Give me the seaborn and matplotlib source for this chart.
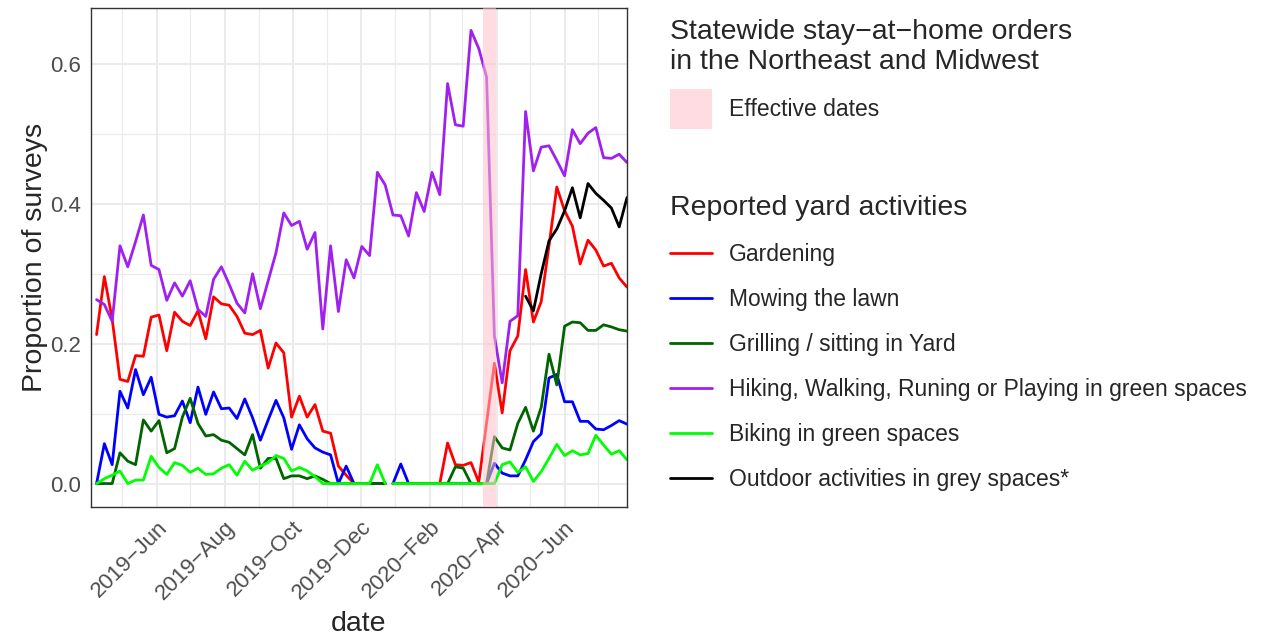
import matplotlib
matplotlib.use('Agg')

import numpy as np
import pandas as pd
import seaborn as sns
import matplotlib.pyplot as plt
import matplotlib.dates as mdates
from matplotlib.patches import Patch
from matplotlib.lines import Line2D

# weekly survey data, Monday 2019-04-08 .. 2020-07-27 (69 weeks)
dates = pd.date_range('2019-04-08', periods=69, freq='7D')
nan = np.nan

gardening = [0.213, 0.296, 0.235, 0.149, 0.146, 0.183, 0.182, 0.238, 0.241, 0.190,
             0.245, 0.232, 0.226, 0.247, 0.207, 0.267, 0.257, 0.255, 0.239, 0.215,
             0.213, 0.219, 0.165, 0.201, 0.187, 0.095, 0.125, 0.095, 0.113, 0.075,
             0.072, 0.025, 0.012, 0.0, 0.0, 0.0, 0.0, 0.0, 0.0, 0.0,
             0.0, 0.0, 0.0, 0.0, 0.0, 0.058, 0.027, 0.026, 0.030, 0.002,
             0.087, 0.172, 0.101, 0.190, 0.211, 0.306, 0.231, 0.260, 0.340, 0.424,
             0.390, 0.368, 0.314, 0.348, 0.334, 0.311, 0.315, 0.294, 0.281]
mowing = [0.0, 0.057, 0.027, 0.132, 0.108, 0.163, 0.127, 0.152, 0.099, 0.095,
          0.097, 0.118, 0.087, 0.138, 0.099, 0.131, 0.107, 0.108, 0.093, 0.121,
          0.094, 0.062, 0.091, 0.119, 0.094, 0.049, 0.084, 0.064, 0.051, 0.045,
          0.041, 0.0, 0.025, 0.0, 0.0, 0.0, 0.0, 0.0, 0.0, 0.028,
          0.0, 0.0, 0.0, 0.0, 0.0, 0.0, 0.0, 0.0, 0.0, 0.0,
          0.0, 0.029, 0.015, 0.011, 0.011, 0.034, 0.060, 0.071, 0.151, 0.156,
          0.117, 0.117, 0.089, 0.089, 0.078, 0.077, 0.083, 0.090, 0.085]
grilling = [0.0, 0.0, 0.0, 0.044, 0.032, 0.027, 0.091, 0.075, 0.090, 0.044,
            0.050, 0.095, 0.122, 0.086, 0.068, 0.070, 0.062, 0.059, 0.050, 0.041,
            0.070, 0.022, 0.036, 0.036, 0.007, 0.011, 0.011, 0.007, 0.011, 0.006,
            0.0, 0.0, 0.0, 0.0, 0.0, 0.0, 0.0, 0.0, 0.0, 0.0,
            0.0, 0.0, 0.0, 0.0, 0.0, 0.0, 0.024, 0.022, 0.0, 0.0,
            0.0, 0.067, 0.051, 0.048, 0.086, 0.109, 0.075, 0.109, 0.185, 0.141,
            0.225, 0.231, 0.230, 0.219, 0.219, 0.227, 0.224, 0.220, 0.218]
hiking = [0.263, 0.256, 0.232, 0.340, 0.310, 0.346, 0.384, 0.312, 0.306, 0.262,
          0.287, 0.268, 0.290, 0.249, 0.239, 0.292, 0.310, 0.285, 0.258, 0.244,
          0.300, 0.250, 0.290, 0.330, 0.387, 0.369, 0.375, 0.335, 0.359, 0.221,
          0.340, 0.246, 0.320, 0.294, 0.339, 0.326, 0.445, 0.427, 0.384, 0.383,
          0.354, 0.416, 0.389, 0.445, 0.413, 0.572, 0.513, 0.511, 0.648, 0.622,
          0.581, 0.211, 0.144, 0.232, 0.240, 0.532, 0.447, 0.481, 0.483, 0.462,
          0.440, 0.506, 0.486, 0.501, 0.509, 0.466, 0.465, 0.471, 0.459]
biking = [0.0, 0.007, 0.012, 0.018, 0.0, 0.005, 0.005, 0.039, 0.023, 0.013,
          0.030, 0.026, 0.016, 0.022, 0.013, 0.014, 0.022, 0.027, 0.012, 0.032,
          0.019, 0.025, 0.030, 0.040, 0.036, 0.018, 0.023, 0.018, 0.010, 0.0,
          0.0, 0.0, 0.0, 0.0, 0.0, 0.0, 0.027, 0.0, 0.0, 0.0,
          0.0, 0.0, 0.0, 0.0, 0.0, 0.0, 0.0, 0.0, 0.0, 0.0,
          0.0, 0.0, 0.027, 0.031, 0.016, 0.024, 0.003, 0.017, 0.036, 0.056,
          0.040, 0.047, 0.041, 0.043, 0.069, 0.055, 0.042, 0.047, 0.034]
grey_spaces = [nan] * 55 + [0.268, 0.247, 0.300, 0.347, 0.364, 0.390, 0.423, 0.380,
                            0.429, 0.415, 0.405, 0.394, 0.367, 0.409]

activities = ['Gardening', 'Mowing the lawn', 'Grilling / sitting in Yard',
              'Hiking, Walking, Runing or Playing in green spaces',
              'Biking in green spaces', 'Outdoor activities in grey spaces*']
colors = ['#FF0000', '#0000FF', '#006400', '#A020F0', '#00FF00', '#000000']

order_start = pd.Timestamp('2020-03-20')
order_end = pd.Timestamp('2020-03-31')

wide = pd.DataFrame({'date': dates,
                     activities[0]: gardening, activities[1]: mowing,
                     activities[2]: grilling, activities[3]: hiking,
                     activities[4]: biking, activities[5]: grey_spaces})
df = wide.melt(id_vars='date', var_name='activity', value_name='value').dropna()
# lines break over the year change, except the hiking series
df['seg'] = np.where(df['date'] >= pd.Timestamp('2019-12-30'), 1, 0)
df.loc[df['activity'] == activities[3], 'seg'] = 0

sns.set_theme(style='white')
plt.rcParams['font.family'] = ['Liberation Sans', 'DejaVu Sans']

fig = plt.figure(figsize=(12.68, 6.41), dpi=100)
ax = fig.add_axes([91 / 1268, 1 - 507 / 641, 536 / 1268, 499 / 641])

sns.lineplot(data=df, x='date', y='value', hue='activity', units='seg',
             estimator=None, hue_order=activities, palette=colors,
             linewidth=2.0, legend=False, ax=ax)

ax.axvspan(order_start, order_end, color='#FFC0CB', alpha=0.55, lw=0, zorder=3)

ax.set_xlim(pd.Timestamp('2019-04-03'), pd.Timestamp('2020-07-27'))
ax.set_ylim(-0.0335, 0.68)
ax.set_yticks([0.0, 0.2, 0.4, 0.6])
ax.set_yticks([0.1, 0.3, 0.5], minor=True)
ax.xaxis.set_major_locator(mdates.MonthLocator(bymonth=[2, 4, 6, 8, 10, 12]))
ax.xaxis.set_minor_locator(mdates.MonthLocator(bymonth=[1, 3, 5, 7, 9, 11]))
ax.xaxis.set_major_formatter(mdates.DateFormatter('%Y\u2212%b'))
ax.yaxis.set_major_formatter(matplotlib.ticker.FormatStrFormatter('%.1f'))

ax.grid(which='major', color='#EBEBEB', linewidth=1.5, zorder=0)
ax.grid(which='minor', color='#EBEBEB', linewidth=0.8, zorder=0)
ax.set_axisbelow(True)
for s in ax.spines.values():
    s.set_color('#333333')
    s.set_linewidth(1.0)

ax.tick_params(which='major', length=4, width=1, color='#333333',
               labelsize=16, labelcolor='#4D4D4D', pad=3)
ax.tick_params(which='minor', length=0)
plt.setp(ax.get_xticklabels(), rotation=45, ha='right', rotation_mode='anchor')

ax.set_xlabel('date', fontsize=20.5, labelpad=5)
ax.set_ylabel('Proportion of surveys', fontsize=20.5, labelpad=2)

# legends
leg1 = fig.legend(handles=[Patch(facecolor='#FFC0CB', alpha=0.55, lw=0)],
                  labels=['Effective dates'],
                  title='Statewide stay\u2212at\u2212home orders\nin the Northeast and Midwest',
                  loc='upper left', bbox_to_anchor=(670 / 1268, 1 - 19 / 641),
                  frameon=False, borderpad=0, borderaxespad=0, fontsize=16.5,
                  title_fontsize=20.5, handlelength=1.83, handleheight=2.3,
                  handletextpad=0.74, labelspacing=0.6, alignment='left')

line_handles = [Line2D([], [], color=c, lw=2.0) for c in colors]
leg2 = fig.legend(handles=line_handles, labels=activities,
                  title='Reported yard activities',
                  loc='upper left', bbox_to_anchor=(670 / 1268, 1 - 195 / 641),
                  frameon=False, borderpad=0, borderaxespad=0, fontsize=16.5,
                  title_fontsize=20.5, handlelength=1.83, handletextpad=0.74,
                  labelspacing=0.96, alignment='left')

fig.savefig('out.png', dpi=100)
plt.close()
